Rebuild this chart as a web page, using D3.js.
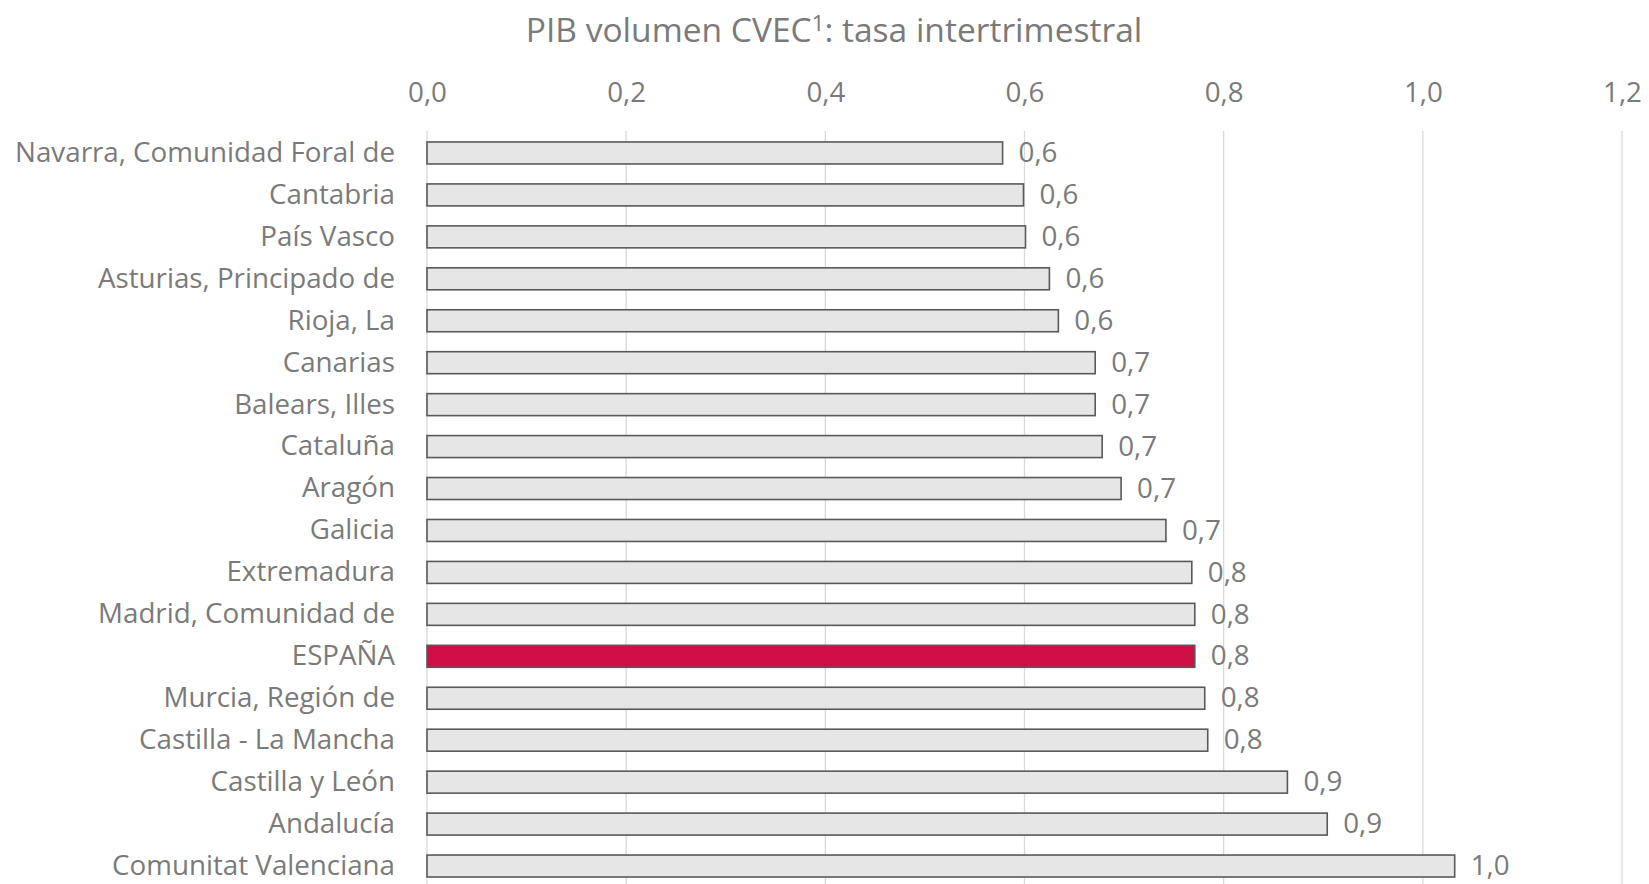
<!DOCTYPE html>
<html>
<head>
<meta charset="utf-8">
<script src="https://cdn.jsdelivr.net/npm/d3@7"></script>
<style>
  body { margin: 0; background: #fff; }
  svg text { font-family: "Open Sans", "Noto Sans", sans-serif; fill: #7a7a7a; }
</style>
</head>
<body>
<svg id="chart"></svg>
<script>
const regions = [
    "Navarra, Comunidad Foral de", "Cantabria", "País Vasco", "Asturias, Principado de",
    "Rioja, La", "Canarias", "Balears, Illes", "Cataluña", "Aragón", "Galicia",
    "Extremadura", "Madrid, Comunidad de", "ESPAÑA", "Murcia, Región de",
    "Castilla - La Mancha", "Castilla y León", "Andalucía", "Comunitat Valenciana"
];
const growth = [
    0.578, 0.599, 0.601, 0.625, 0.634, 0.671, 0.671, 0.678, 0.697, 0.742,
    0.768, 0.771, 0.771, 0.781, 0.784, 0.864, 0.904, 1.032
];
const xTicks = [0, 0.2, 0.4, 0.6, 0.8, 1.0, 1.2];
const title = "PIB volumen CVEC";

const width = 1649, height = 884;
const margin = { top: 132, left: 427, right: 27, bottom: -3 };

const data = regions.map((r, i) => ({ region: r, value: growth[i] }));
const fmt = v => d3.format(".1f")(v).replace(".", ",");

const svg = d3.select("#chart").attr("width", width).attr("height", height);

const x = d3.scaleLinear().domain([0, 1.2]).range([margin.left, width - margin.right]);
const y = d3.scaleBand().domain(regions)
    .range([margin.top, height - margin.bottom])
    .paddingInner(0.476).paddingOuter(0.238);

// fit the label font to the width of the longest category label
const probe = svg.append("text").attr("font-size", 26).text(regions[0]);
const labelSize = 26 * 380 / probe.node().getComputedTextLength();
probe.remove();

// gridlines
svg.append("g")
    .selectAll("line")
    .data(xTicks)
    .join("line")
    .attr("x1", d => x(d)).attr("x2", d => x(d))
    .attr("y1", margin.top - 1).attr("y2", height)
    .attr("stroke", "#d9d9d9")
    .attr("stroke-width", 1.3);

// top axis labels
const xAxis = svg.append("g")
    .attr("transform", `translate(0, ${margin.top - 30})`)
    .call(d3.axisTop(x).tickValues(xTicks).tickFormat(fmt).tickSize(0).tickPadding(0));
xAxis.select(".domain").remove();
xAxis.selectAll("text")
    .attr("font-size", labelSize)
    .attr("fill", "#7a7a7a")
    .style("font-family", "\"Open Sans\", sans-serif");

// left axis labels
const yAxis = svg.append("g")
    .attr("transform", `translate(${margin.left - 32}, 0)`)
    .call(d3.axisLeft(y).tickSize(0).tickPadding(0));
yAxis.select(".domain").remove();
yAxis.selectAll("text")
    .attr("font-size", labelSize)
    .attr("fill", "#7a7a7a")
    .style("font-family", "\"Open Sans\", sans-serif");

// bars
svg.append("g")
    .selectAll("rect")
    .data(data)
    .join("rect")
    .attr("x", x(0))
    .attr("y", d => y(d.region))
    .attr("width", d => x(d.value) - x(0))
    .attr("height", y.bandwidth())
    .attr("fill", d => d.region === "ESPAÑA" ? "#cf0e45" : "#e6e6e6")
    .attr("stroke", "#595959")
    .attr("stroke-width", 1.6);

// value labels
svg.append("g")
    .selectAll("text")
    .data(data)
    .join("text")
    .attr("x", d => x(d.value) + 16)
    .attr("y", d => y(d.region) + y.bandwidth() / 2)
    .attr("dy", "0.33em")
    .attr("font-size", labelSize)
    .text(d => fmt(d.value));

// title with superscript
const t = svg.append("text")
    .attr("x", 834)
    .attr("y", 42)
    .attr("text-anchor", "middle")
    .attr("font-size", labelSize * 1.21);
t.append("tspan").text(title);
t.append("tspan").attr("font-size", labelSize * 0.8).attr("dy", -11).text("1");
t.append("tspan").attr("dy", 11).text(": tasa intertrimestral");
</script>
</body>
</html>
